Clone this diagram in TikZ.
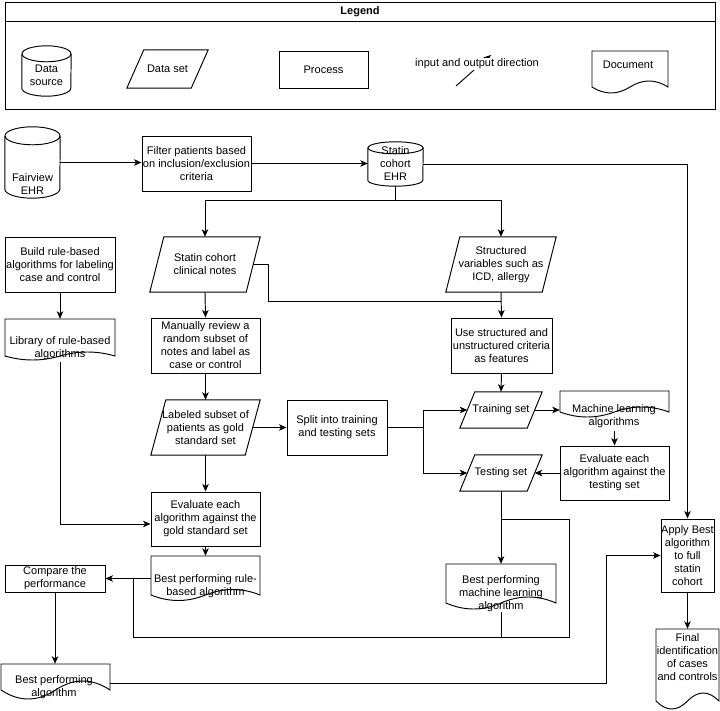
\documentclass[tikz,border=0pt]{standalone}
\usepackage{fontspec}
\setmainfont{Liberation Sans}
\usetikzlibrary{arrows.meta,calc}
\newcommand\parout[2]{\draw[ln] ([xshift=#2pt]#1.north west) -- (#1.north east) -- ([xshift=-#2pt]#1.south east) -- (#1.south west) -- cycle;}
\newcommand\cylout[3]{%
  \draw[ln] ([yshift=-#3pt]#1.north west) -- ([yshift=#3pt]#1.south west) arc[start angle=180,end angle=360,x radius=#2pt,y radius=#3pt] -- ([yshift=-#3pt]#1.north east);
  \draw[ln] ([yshift=-#3pt]#1.north) ellipse[x radius=#2pt,y radius=#3pt];}
% x0 y0 w yc a
\newcommand\docout[5]{\draw[ln] (#1,#2) -- ({#1+#3},#2) -- ({#1+#3},#4) .. controls ({#1+0.8333*#3},{#4-1.3333*#5}) and ({#1+0.6667*#3},{#4-1.3333*#5}) .. ({#1+0.5*#3},#4) .. controls ({#1+0.3333*#3},{#4+1.3333*#5}) and ({#1+0.1667*#3},{#4+1.3333*#5}) .. (#1,#4) -- cycle;}
\begin{document}
\begin{tikzpicture}[x=1pt,y=-1pt,
  ln/.style={line width=0.95pt,black},
  arr/.style={ln,-{Stealth[length=7.5pt,width=6.5pt,inset=2pt]}},
  txt/.style={font=\fontsize{11}{13}\selectfont,align=center,inner sep=0pt,text=black},
  sz/.style 2 args={minimum width=#1pt,minimum height=#2pt},
  area/.style={draw=none,inner sep=0pt},
  proc/.style={ln,draw,txt,inner sep=0pt},
  dset/.style={area,txt}]
\useasboundingbox (0,0) rectangle (720,711);
% ---------- legend ----------
\node[ln,draw,inner sep=0pt,sz={710}{107}] (legend) at (360,55.5) {};
\draw[ln] (5,21) -- (715,21);
\node[txt] (legtitle) at (360,12) {\textbf{Legend}};
\node[area,sz={49}{50}] (legcyl) at (46.5,71) {};
\cylout{legcyl}{24.5}{8}
\node[txt] (legcylt) at (46.5,75.5) {Data\\source};
\node[dset,sz={81}{38}] (legds) at (167.5,69) {Data set};
\parout{legds}{17}
\node[proc,sz={89}{37}] (legproc) at (323.5,69.5) {Process};
\coordinate (legA) at (456,86);
\coordinate (legB) at (491,55);
\draw[arr] (legA) -- (legB);
\node[txt,fill=white,inner sep=1pt] (legarrt) at (477,64) {input and output direction};
\node[area,sz={76}{46}] (legdoc) at (630,74) {};
\docout{592}{51}{76}{87}{6}
\node[txt] (legdoct) at (628,65) {Document};
% ---------- main shapes ----------
\node[area,sz={55}{71}] (fairview) at (32.5,162.5) {};
\cylout{fairview}{27.5}{9}
\node[txt] (fairviewt) at (32.5,184.5) {Fairview\\EHR};
\node[proc,sz={109}{55}] (filter) at (196.5,163.5) {Filter patients based\\on inclusion/exclusion\\criteria};
\node[area,txt,sz={55}{44}] (statin) at (395.5,164) {Statin\\cohort\\EHR};
\cylout{statin}{27.5}{6}
\node[dset,sz={110}{55}] (notes) at (205,264.5) {Statin cohort\\clinical notes};
\parout{notes}{14}
\node[dset,sz={110}{55}] (structured) at (501,264.5) {Structured\\variables such as\\ICD, allergy};
\parout{structured}{14}
\node[proc,sz={110}{55}] (build) at (60,264.5) {Build rule-based\\algorithms for labeling\\case and control};
\node[proc,sz={109}{55}] (manual) at (205.5,345.5) {Manually review a\\random subset of\\notes and label as\\case or control};
\node[proc,sz={101}{55}] (usestruct) at (501.5,345.5) {Use structured and\\unstructured criteria\\as features};
\node[area,sz={110}{43}] (lib) at (60,340.5) {};
\docout{5}{319}{110}{356}{4}
\node[txt] (libt) at (60,348.5) {Library of rule-based\\algorithms};
\node[dset,sz={109}{55}] (labeled) at (205.5,427.5) {Labeled subset of\\patients as gold\\standard set};
\parout{labeled}{15}
\node[proc,sz={100}{55}] (split) at (337,427.5) {Split into training\\and testing sets};
\node[dset,sz={82}{36}] (training) at (501,410) {Training set};
\parout{training}{15}
\node[dset,sz={82}{36}] (testing) at (501,473) {Testing set};
\parout{testing}{15}
\node[area,sz={109}{40}] (ml) at (614.5,411) {};
\docout{560}{391}{109}{412}{5}
\node[txt] (mlt) at (614,416.5) {Machine learning\\algorithms};
\node[proc,sz={109}{54}] (evaltest) at (614.5,473) {Evaluate each\\algorithm against the\\testing set};
\node[proc,sz={109}{54}] (evalgold) at (205.5,519) {Evaluate each\\algorithm against the\\gold standard set};
\node[area,sz={109}{44}] (bestrule) at (205.5,578) {};
\docout{151}{556}{109}{595}{5.5}
\node[txt] (bestrulet) at (205.5,586) {Best performing rule-\\based algorithm};
\node[proc,sz={100}{27}] (compare) at (55,578.5) {Compare the\\performance};
\node[area,sz={110}{48}] (bestml) at (501,588) {};
\docout{446}{564}{110}{603}{6}
\node[txt] (bestmlt) at (501,594) {Best performing\\machine learning\\algorithm};
\node[proc,sz={53}{73}] (apply) at (687.5,555.5) {Apply Best\\algorithm\\to full\\statin\\cohort};
\node[area,sz={109}{36}] (bestalg) at (55.5,682) {};
\docout{1}{664}{109}{690}{9}
\node[txt] (bestalgt) at (54,687) {Best performing\\algorithm};
\node[area,sz={63}{80}] (final) at (687.5,669) {};
\docout{656}{629}{63}{701}{8}
\node[txt] (finalt) at (687.5,657) {Final\\identification\\of cases\\and controls};
% ---------- connectors ----------
\coordinate (j1) at (501,301);
\coordinate (notesE) at ([xshift=-7pt]notes.east);
\coordinate (trainW) at ([xshift=7.5pt]training.west);
\coordinate (trainE) at ([xshift=-7.5pt]training.east);
\coordinate (testW) at ([xshift=7.5pt]testing.west);
\coordinate (testE) at ([xshift=-7.5pt]testing.east);
\coordinate (labE) at ([xshift=-7.5pt]labeled.east);
\coordinate (j3) at (501,519);
\coordinate (j4) at (569,637);
\coordinate (j5) at (133,637);
\coordinate (j6) at (133,579);
\coordinate (j7) at (606,683);
\draw[arr] (fairview.east) -- (fairview.east -| filter.west);
\draw[arr] (filter.east) -- (filter.east -| statin.west);
\draw[arr] (statin.east) -| (apply.north);
\draw[arr] (statin.south) -- ++(0,14) coordinate (js) -| (notes.north);
\draw[arr] (js) -| (structured.north);
\draw[arr] (notes.south) -- (manual.north);
\draw[ln] (notesE) -- ++(15,0) |- (j1);
\draw[arr] (structured.south) -- (usestruct.north);
\draw[arr] (usestruct.south) -- (training.north);
\draw[arr] (trainE) -- (trainE -| ml.west);
\draw[arr] (ml.south) -- (ml.south |- evaltest.north);
\draw[arr] (evaltest.west) -- (evaltest.west -| testE);
\draw[ln] (split.east) -- ++(36,0) coordinate (j2);
\draw[arr] (j2) |- (trainW);
\draw[arr] (j2) |- (testW);
\draw[arr] (labE) -- (split.west);
\draw[arr] (manual.south) -- (labeled.north);
\draw[arr] (labeled.south) -- (evalgold.north);
\draw[arr] (build.south) -- (lib.north);
\draw[arr] (lib.south) |- ([yshift=-5pt]evalgold.west);
\draw[arr] (evalgold.south) -- (bestrule.north);
\draw[arr] (compare.east -| bestrule.west) -- (compare.east);
\draw[arr] (testing.south) -- (bestml.north);
\draw[ln] (j3) -| (j4) -- (j5) -- (j6);
\draw[ln] (bestml.south) -- (bestml.south |- j5);
\draw[arr] (compare.south) -- (compare.south |- bestalg.north);
\draw[arr] (j7 -| bestalg.east) -- (j7) |- (apply.west);
\draw[arr] (apply.south) -- (final.north);
\end{tikzpicture}
\end{document}
